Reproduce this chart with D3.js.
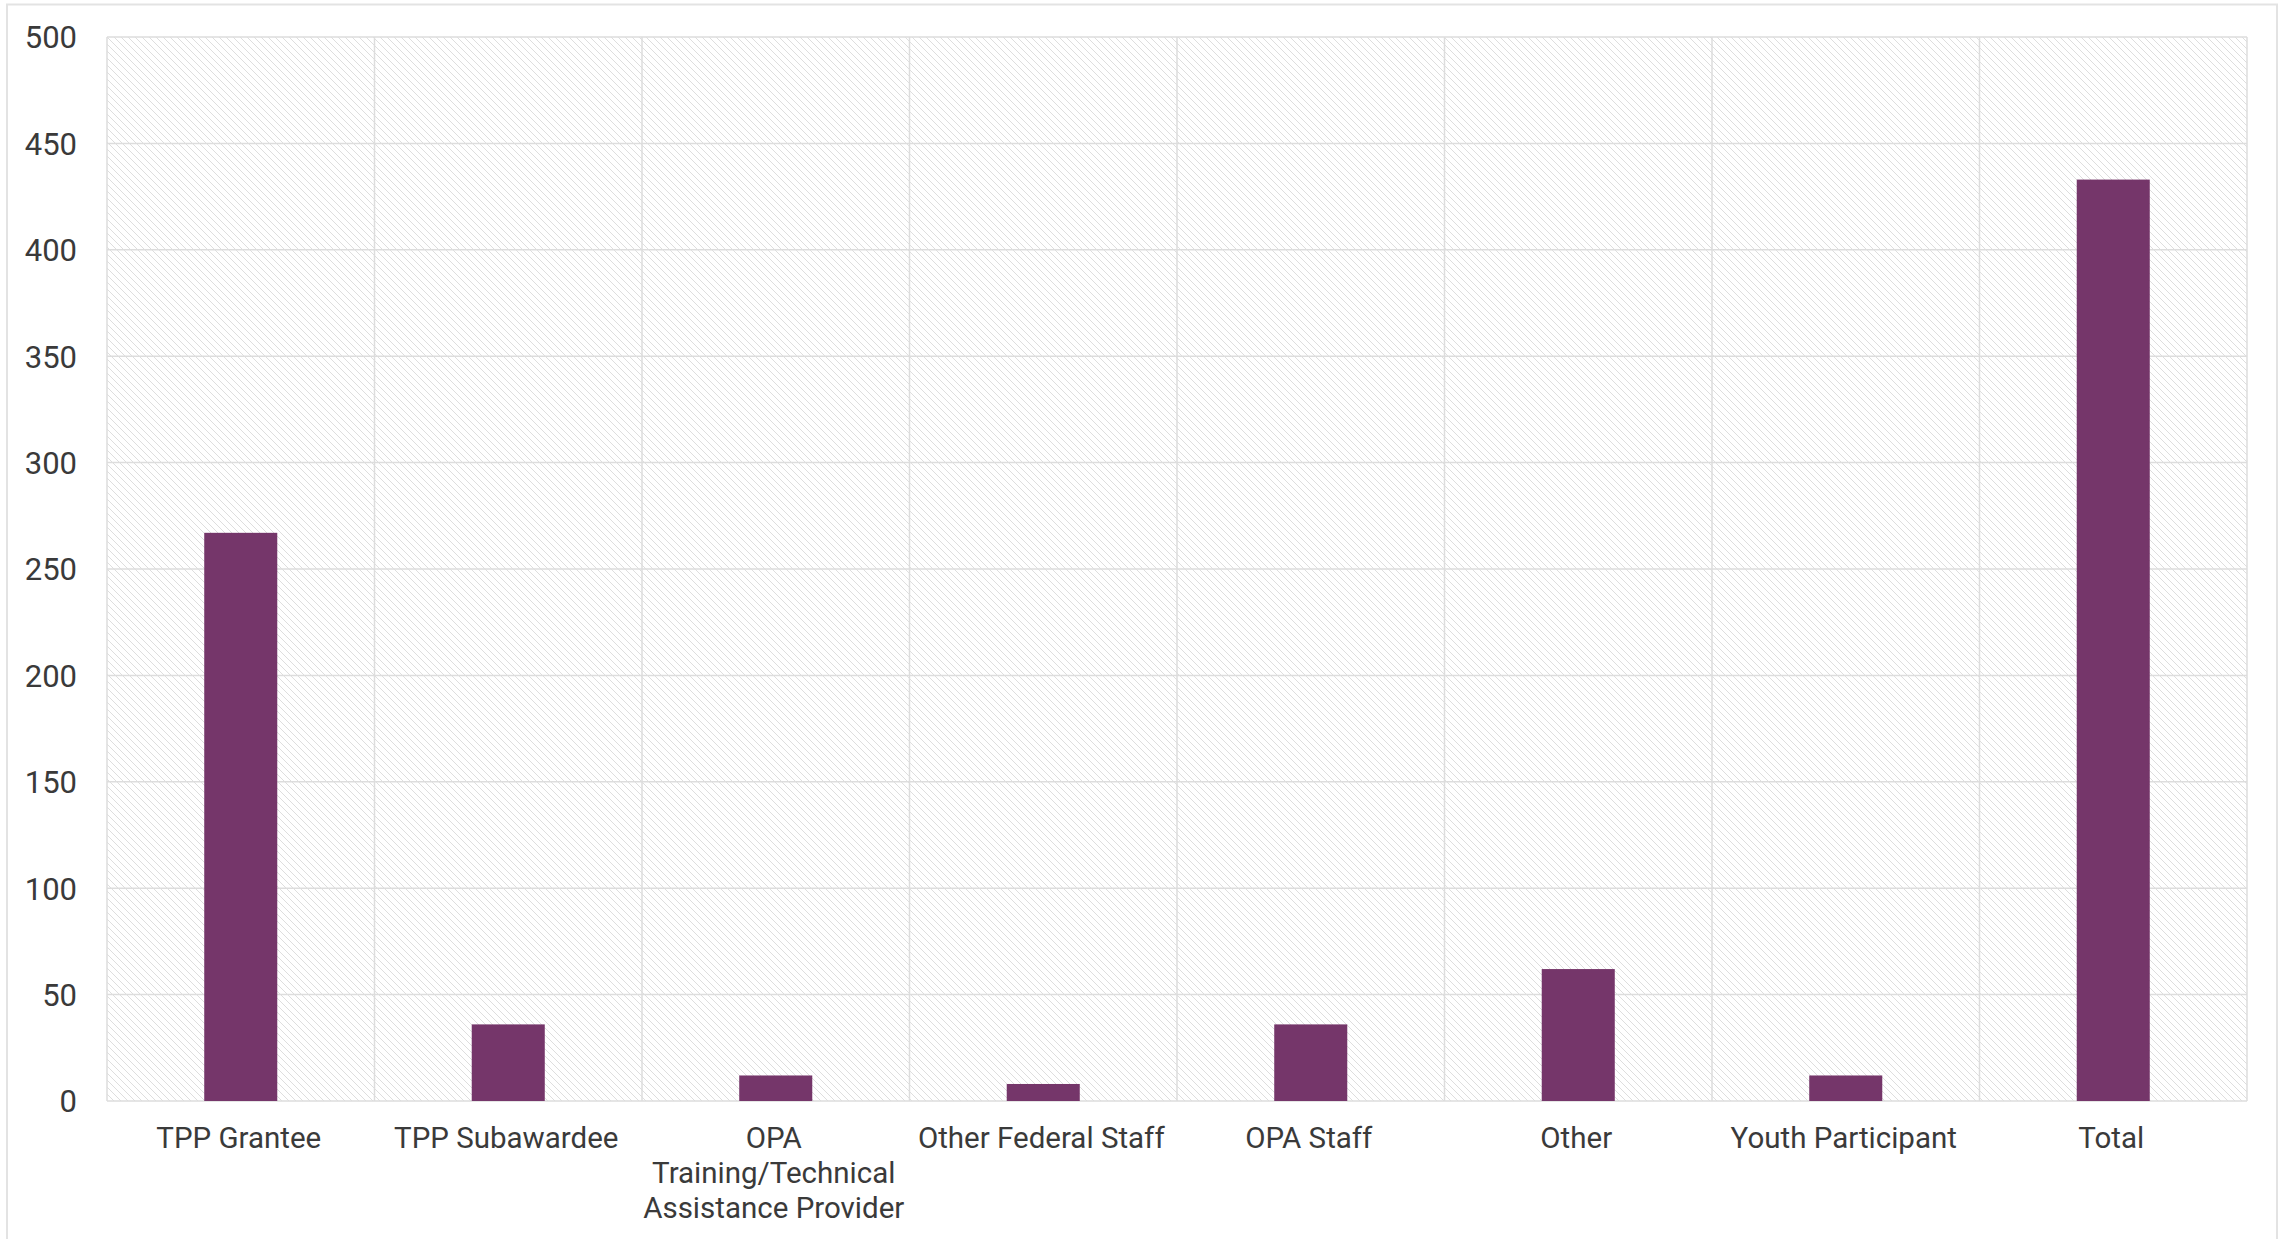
<!DOCTYPE html>
<html>
<head>
<meta charset="utf-8">
<script src="https://cdn.jsdelivr.net/npm/d3@7"></script>
<style>
  html, body { margin: 0; padding: 0; background: #fff; }
  svg { display: block; }
  text { font-family: Roboto, "Noto Sans", sans-serif; fill: #3a3a3a; }
</style>
</head>
<body>
<svg id="chart" width="2280" height="1239"></svg>
<script>
// Respondent roles and counts
const categories = [
  "TPP Grantee",
  "TPP Subawardee",
  "OPA Training/Technical Assistance Provider",
  "Other Federal Staff",
  "OPA Staff",
  "Other",
  "Youth Participant",
  "Total"
];
const counts = [267, 36, 12, 8, 36, 62, 12, 433];
const yTicks = [0, 50, 100, 150, 200, 250, 300, 350, 400, 450, 500];
// Manual line breaks for long category names
const labelLines = {
  "OPA Training/Technical Assistance Provider": ["OPA", "Training/Technical", "Assistance Provider"]
};

const W = 2280, H = 1239;
const m = { left: 107, right: 2247, top: 37, bottom: 1101 };
const barColor = "#75366a";
const gridColor = "#dddddd";

const svg = d3.select("#chart");

// Diagonal hatch fill for the plot background
const defs = svg.append("defs");
const pat = defs.append("pattern")
  .attr("id", "hatch")
  .attr("patternUnits", "userSpaceOnUse")
  .attr("width", 7).attr("height", 7);
pat.append("rect").attr("width", 7).attr("height", 7).attr("fill", "#ffffff");
pat.append("path")
  .attr("d", "M-1,-1 L8,8 M-1,6 L1,8 M6,-1 L8,1")
  .attr("stroke", "#dedede")
  .attr("stroke-width", 1);

// Outer frame
svg.append("rect")
  .attr("x", 7).attr("y", 4.5)
  .attr("width", 2270).attr("height", H + 20)
  .attr("fill", "none")
  .attr("stroke", "#e3e3e3")
  .attr("stroke-width", 2);

const x = d3.scaleBand()
  .domain(categories)
  .range([m.left, m.right])
  .paddingInner(0).paddingOuter(0);

const y = d3.scaleLinear()
  .domain([0, 500])
  .range([m.bottom, m.top]);

// Plot background
svg.append("rect")
  .attr("x", m.left).attr("y", m.top)
  .attr("width", m.right - m.left).attr("height", m.bottom - m.top)
  .attr("fill", "url(#hatch)");

// Horizontal gridlines
svg.append("g")
  .selectAll("line")
  .data(yTicks)
  .join("line")
  .attr("x1", m.left).attr("x2", m.right)
  .attr("y1", d => y(d)).attr("y2", d => y(d))
  .attr("stroke", gridColor)
  .attr("stroke-width", 1.5);

// Vertical category separators
const seps = categories.map(c => x(c)).concat([m.right]);
svg.append("g")
  .selectAll("line")
  .data(seps)
  .join("line")
  .attr("x1", d => d).attr("x2", d => d)
  .attr("y1", m.top).attr("y2", m.bottom)
  .attr("stroke", gridColor)
  .attr("stroke-width", 1.5);

// Bars
const barW = x.bandwidth() * 0.273;
svg.append("g")
  .selectAll("rect")
  .data(categories.map((c, i) => ({ c, v: counts[i] })))
  .join("rect")
  .attr("x", d => x(d.c) + x.bandwidth() / 2 - barW / 2)
  .attr("y", d => y(d.v))
  .attr("width", barW)
  .attr("height", d => y(0) - y(d.v))
  .attr("fill", barColor);

// Y axis labels
const yAxis = d3.axisLeft(y).tickValues(yTicks).tickSize(0).tickPadding(0);
const gy = svg.append("g")
  .attr("transform", `translate(${m.left - 30},0)`)
  .call(yAxis);
gy.select(".domain").remove();
gy.selectAll("text")
  .attr("font-size", 31)
  .attr("font-family", "Roboto, sans-serif")
  .attr("fill", "#3a3a3a")
  .attr("dy", "0.35em");

// X axis labels
const xAxis = d3.axisBottom(x).tickSize(0).tickPadding(0).tickFormat(() => "");
const gx = svg.append("g")
  .attr("transform", `translate(0,${m.bottom})`)
  .call(xAxis);
gx.select(".domain").remove();
gx.selectAll(".tick").each(function(d) {
  const t = d3.select(this).select("text");
  t.attr("y", 0).attr("dy", null)
   .attr("font-size", 29.5)
   .attr("font-family", "Roboto, sans-serif")
   .attr("fill", "#3a3a3a")
   .attr("text-anchor", "middle")
   .attr("transform", "translate(-2,0)");
  const lines = labelLines[d] || [d];
  t.selectAll("tspan")
    .data(lines)
    .join("tspan")
    .attr("x", 0)
    .attr("y", (l, i) => 47 + i * 35)
    .text(l => l);
});
</script>
</body>
</html>
